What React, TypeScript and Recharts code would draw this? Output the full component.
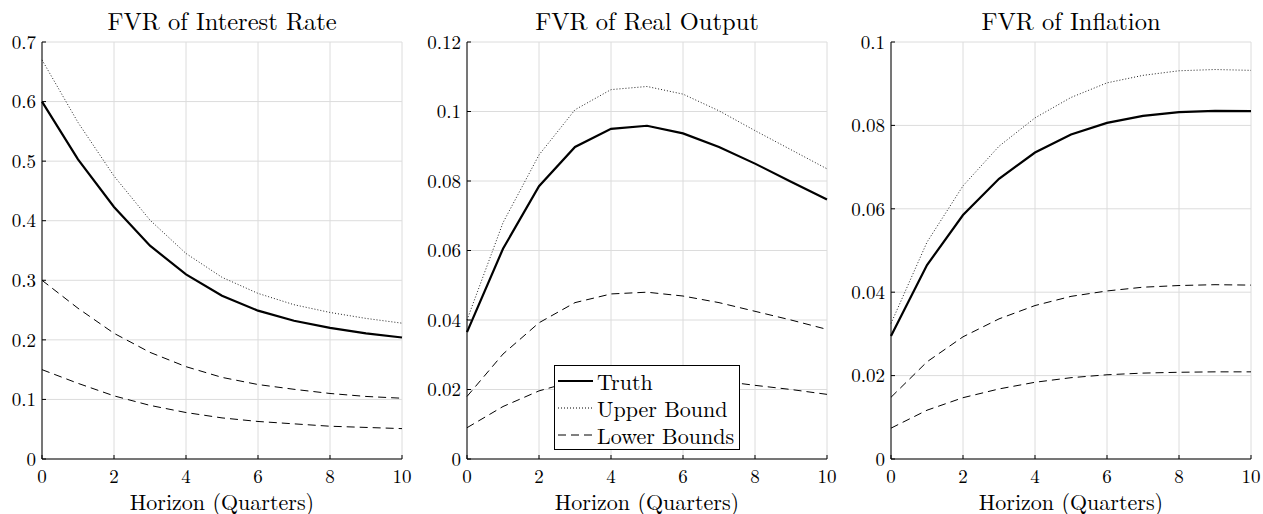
import { LineChart, Line, XAxis, YAxis, CartesianGrid, Legend } from 'recharts';

const horizon = [0, 1, 2, 3, 4, 5, 6, 7, 8, 9, 10];
const xTicks = [0, 2, 4, 6, 8, 10];

// FVR of Interest Rate
const rateTruth = [0.6, 0.503, 0.423, 0.358, 0.31, 0.274, 0.249, 0.232, 0.22, 0.211, 0.204];
const rateUpper = [0.67, 0.565, 0.475, 0.401, 0.345, 0.305, 0.278, 0.259, 0.246, 0.236, 0.228];
const rateLowerA = [0.3, 0.253, 0.211, 0.179, 0.155, 0.137, 0.125, 0.117, 0.11, 0.105, 0.102];
const rateLowerB = [0.15, 0.127, 0.106, 0.09, 0.078, 0.069, 0.063, 0.059, 0.055, 0.053, 0.051];
const rateTicks = [0, 0.1, 0.2, 0.3, 0.4, 0.5, 0.6, 0.7];

// FVR of Real Output
const outTruth = [0.0365, 0.0605, 0.0785, 0.0898, 0.095, 0.0959, 0.0937, 0.0898, 0.085, 0.0798, 0.0747];
const outUpper = [0.04, 0.068, 0.0875, 0.1005, 0.1063, 0.1072, 0.105, 0.1002, 0.0945, 0.089, 0.0835];
const outLowerA = [0.018, 0.0302, 0.0392, 0.045, 0.0475, 0.048, 0.0469, 0.045, 0.0425, 0.04, 0.0373];
const outLowerB = [0.009, 0.0151, 0.0196, 0.0225, 0.0238, 0.024, 0.0234, 0.0225, 0.0212, 0.02, 0.0186];
const outTicks = [0, 0.02, 0.04, 0.06, 0.08, 0.1, 0.12];

// FVR of Inflation
const infTruth = [0.0295, 0.0465, 0.0585, 0.0672, 0.0735, 0.0778, 0.0806, 0.0823, 0.0832, 0.0835, 0.0834];
const infUpper = [0.0325, 0.052, 0.0655, 0.075, 0.0818, 0.0867, 0.0902, 0.092, 0.0931, 0.0934, 0.0932];
const infLowerA = [0.0148, 0.0233, 0.0293, 0.0336, 0.0368, 0.039, 0.0403, 0.0412, 0.0416, 0.0418, 0.0417];
const infLowerB = [0.0074, 0.0117, 0.0147, 0.0168, 0.0184, 0.0195, 0.0202, 0.0206, 0.0208, 0.0209, 0.0209];
const infTicks = [0, 0.02, 0.04, 0.06, 0.08, 0.1];

const FONT = "'Latin Modern Roman', 'Liberation Serif', serif";
const GRID = '#dcdcdc';

const legendRows = [
  { key: 'truth', label: 'Truth', width: 2.2, dash: undefined as string | undefined },
  { key: 'upper', label: 'Upper Bound', width: 1, dash: '1 2' },
  { key: 'lowerA', label: 'Lower Bounds', width: 1, dash: '8 5' },
];

function LegendBox() {
  return (
    <div
      style={{
        border: '1px solid #000',
        background: '#fff',
        padding: '1px 5px 1px 3px',
        fontFamily: FONT,
        fontSize: 22,
        lineHeight: '27px',
        color: '#000',
        whiteSpace: 'nowrap',
      }}
    >
      {legendRows.map((r) => (
        <div key={r.key} style={{ display: 'flex', alignItems: 'center', height: 27 }}>
          <svg width={36} height={10} style={{ marginRight: 3 }}>
            <line x1={0} y1={5} x2={35} y2={5} stroke="#000" strokeWidth={r.width} strokeDasharray={r.dash} />
          </svg>
          <span>{r.label}</span>
        </div>
      ))}
    </div>
  );
}

interface PanelProps {
  title: string;
  left: number;
  truth: number[];
  upper: number[];
  lowerA: number[];
  lowerB: number[];
  ticks: number[];
  legend?: boolean;
}

function Panel({ title, left, truth, upper, lowerA, lowerB, ticks, legend }: PanelProps) {
  const data = horizon.map((h, i) => ({
    h,
    truth: truth[i],
    upper: upper[i],
    lowerA: lowerA[i],
    lowerB: lowerB[i],
  }));
  const top = ticks[ticks.length - 1];
  return (
    <div style={{ position: 'absolute', left, top: 0, width: 425, height: 514 }}>
      <div
        style={{
          position: 'absolute',
          left: 47,
          width: 360,
          top: 5,
          textAlign: 'center',
          fontFamily: FONT,
          fontSize: 24.5,
          lineHeight: '30px',
          whiteSpace: 'nowrap',
        }}
      >
        {title}
      </div>
      <LineChart width={425} height={514} data={data} margin={{ top: 42, right: 18, left: 0, bottom: 0 }}>
        <CartesianGrid stroke={GRID} strokeWidth={1} />
        <XAxis
          dataKey="h"
          type="number"
          domain={[0, 10]}
          ticks={xTicks}
          height={55}
          stroke="#000"
          tickSize={-4}
          tickMargin={15}
          tick={{ fill: '#000', fontFamily: FONT, fontSize: 19 }}
          label={{ value: 'Horizon (Quarters)', position: 'insideBottom', offset: 4, fill: '#000', fontFamily: FONT, fontSize: 22 }}
        />
        <YAxis
          type="number"
          domain={[0, top]}
          ticks={ticks}
          width={47}
          stroke="#000"
          tickSize={-4}
          tickMargin={10}
          tick={{ fill: '#000', fontFamily: FONT, fontSize: 19 }}
          tickFormatter={(v: number) => String(v)}
        />
        <Line dataKey="truth" name="Truth" stroke="#000" strokeWidth={2.2} dot={false} isAnimationActive={false} />
        <Line dataKey="upper" name="Upper Bound" stroke="#222" strokeWidth={1} strokeDasharray="1 2" dot={false} isAnimationActive={false} />
        <Line dataKey="lowerA" name="Lower Bounds" stroke="#000" strokeWidth={1} strokeDasharray="8 5" dot={false} isAnimationActive={false} />
        <Line dataKey="lowerB" name="Lower Bounds" stroke="#000" strokeWidth={1} strokeDasharray="8 5" dot={false} legendType="none" isAnimationActive={false} />
        {legend && (
          <Legend
            layout="vertical"
            align="center"
            verticalAlign="middle"
            content={() => <LegendBox />}
            wrapperStyle={{ left: 134, top: 365, width: 'auto', height: 'auto' }}
          />
        )}
      </LineChart>
    </div>
  );
}

export default function App() {
  return (
    <div style={{ position: 'absolute', left: 0, top: 0, width: 1263, height: 514, background: '#fff', overflow: 'hidden' }}>
      <Panel title="FVR of Interest Rate" left={-5} truth={rateTruth} upper={rateUpper} lowerA={rateLowerA} lowerB={rateLowerB} ticks={rateTicks} />
      <Panel title="FVR of Real Output" left={420} truth={outTruth} upper={outUpper} lowerA={outLowerA} lowerB={outLowerB} ticks={outTicks} legend />
      <Panel title="FVR of Inflation" left={844} truth={infTruth} upper={infUpper} lowerA={infLowerA} lowerB={infLowerB} ticks={infTicks} />
    </div>
  );
}
